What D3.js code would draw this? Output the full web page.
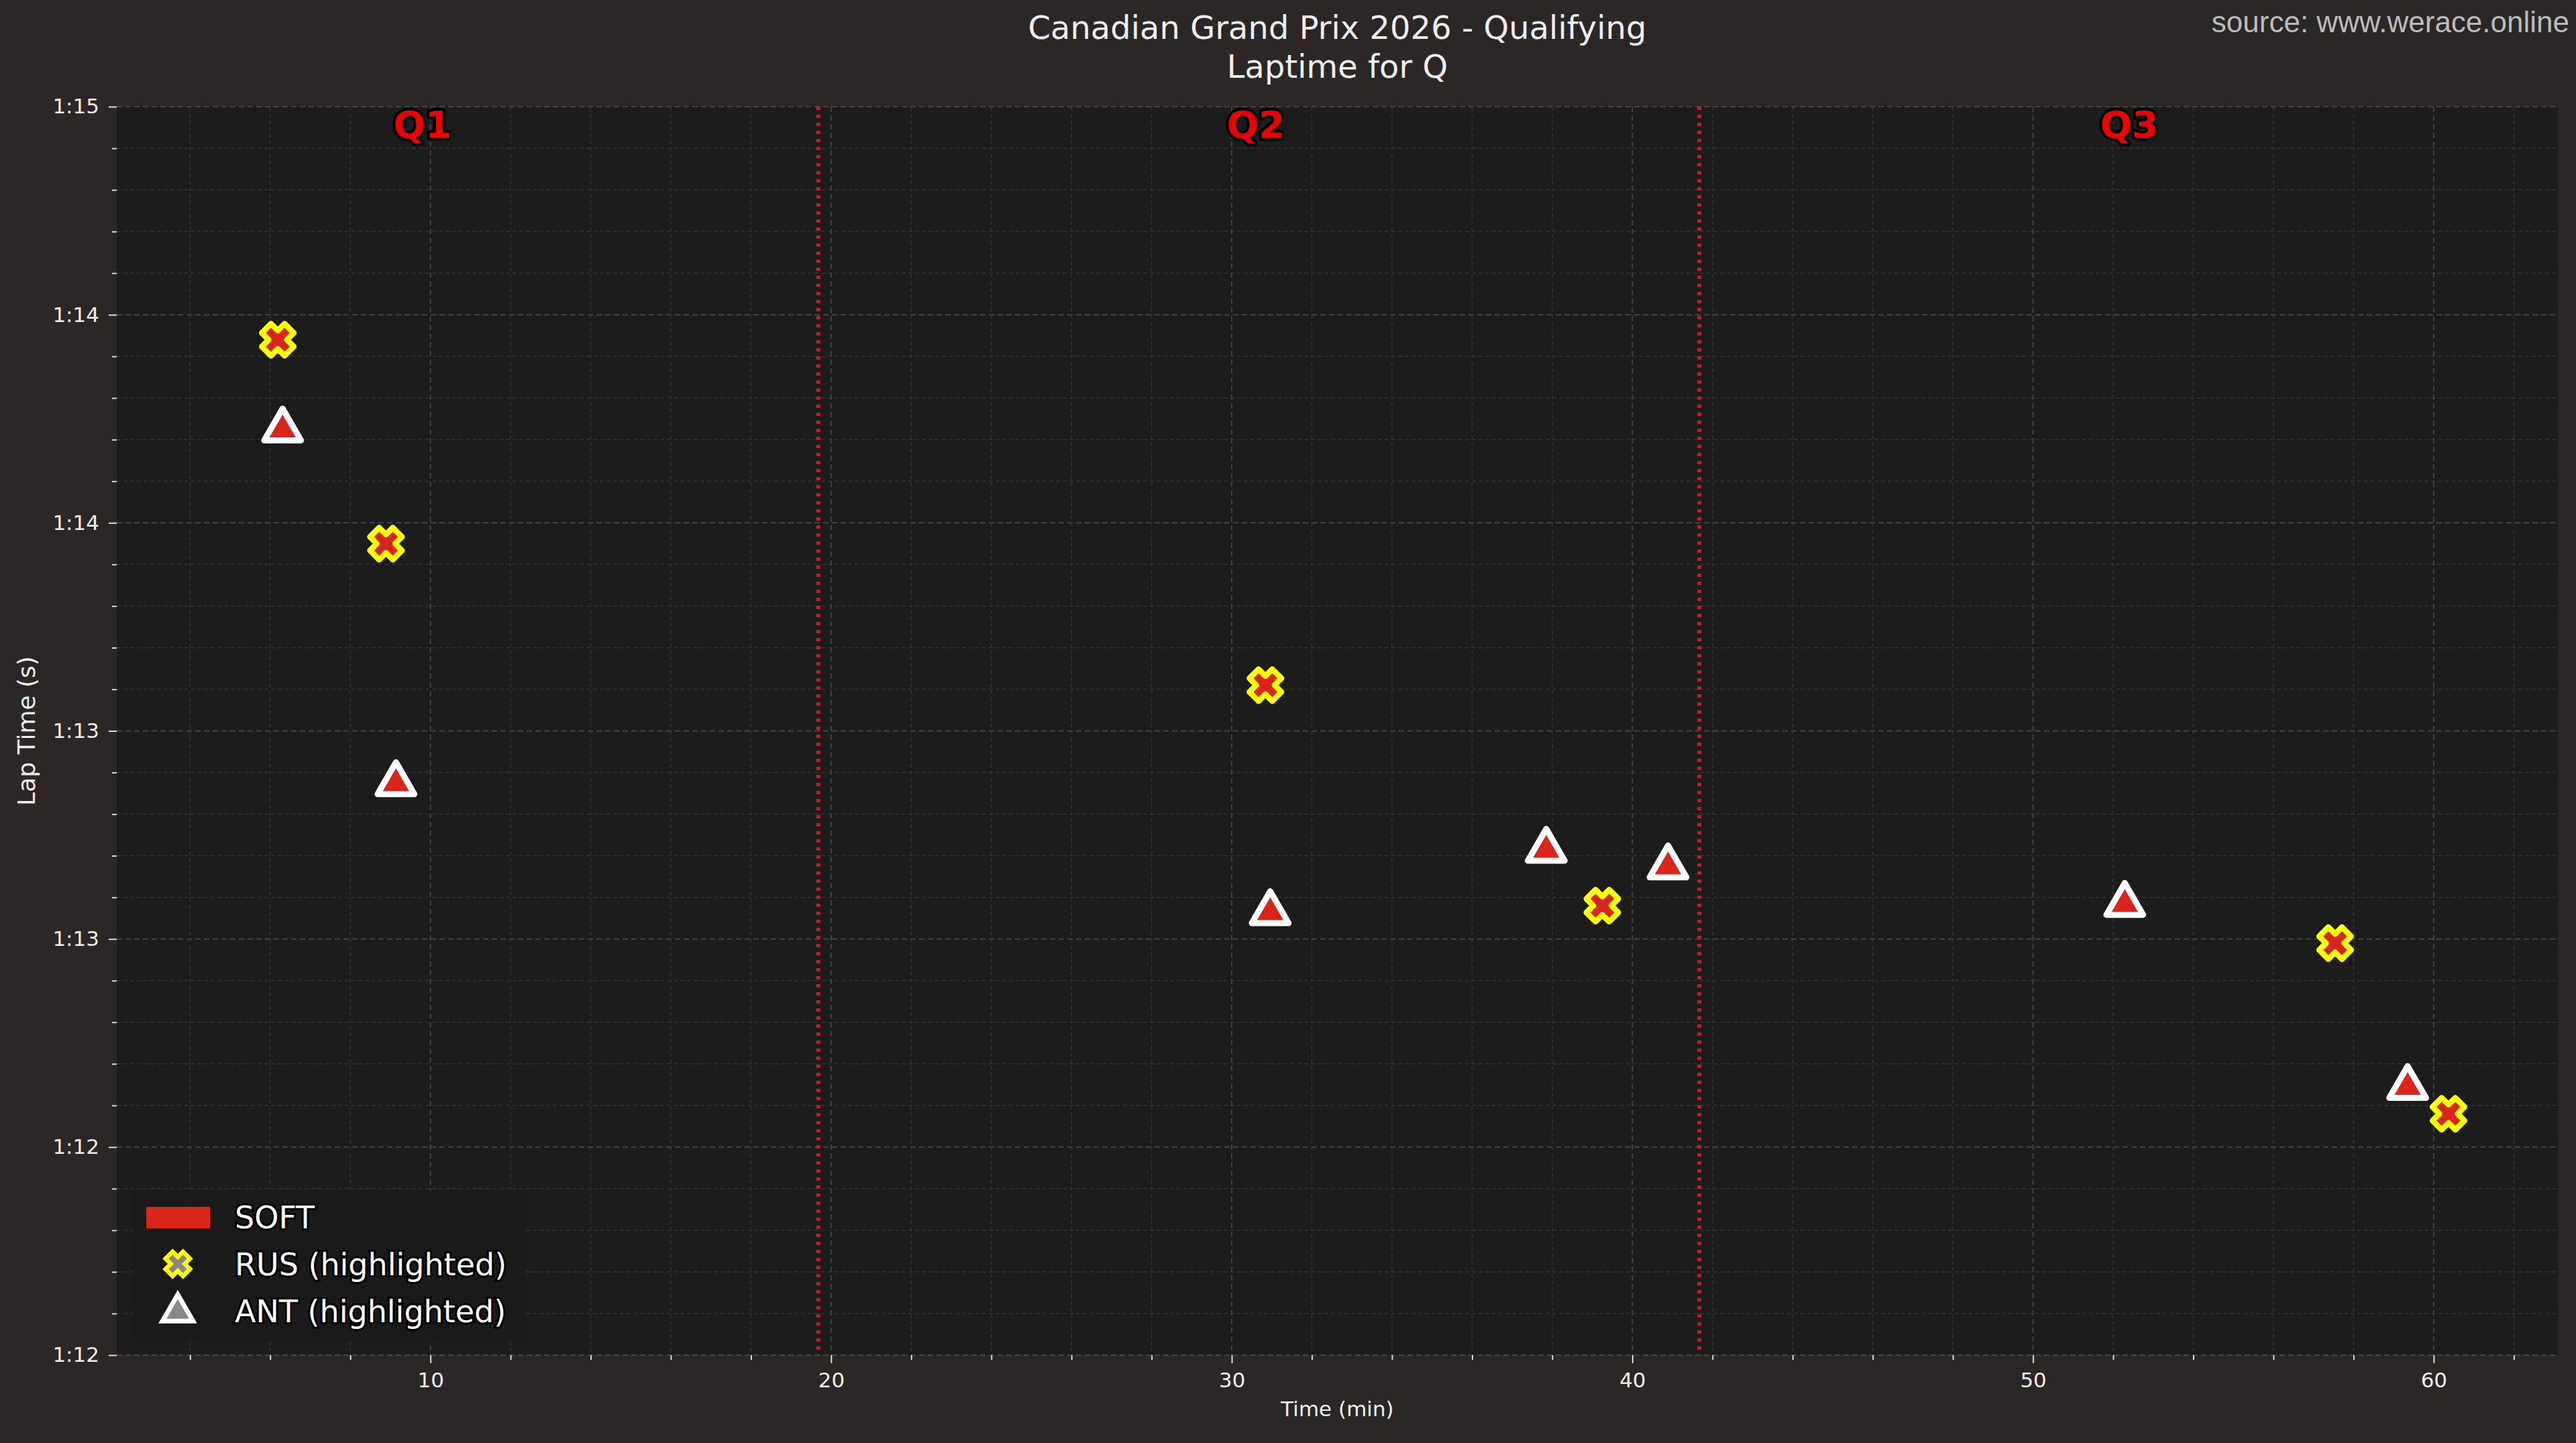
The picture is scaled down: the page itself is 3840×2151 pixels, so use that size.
<!DOCTYPE html>
<html>
<head>
<meta charset="utf-8">
<script src="https://cdn.jsdelivr.net/npm/d3@7"></script>
<style>
  html, body { margin: 0; padding: 0; background: #2a2726; }
  svg text { font-family: "DejaVu Sans", sans-serif; }
</style>
</head>
<body>
<svg id="chart" width="3840" height="2151"></svg>
<script>
// lap data (time in minutes, lap time in seconds)
var rusTimes = [6.19, 8.89, 30.84, 39.25, 57.54, 60.37];
var rusLaps = [74.44, 73.95, 73.61, 73.08, 72.99, 72.58];
var antTimes = [6.31, 9.14, 30.96, 37.85, 40.89, 52.29, 59.35];
var antLaps = [74.23, 73.38, 73.07, 73.22, 73.18, 73.09, 72.65];
var sessionBreaks = [19.68, 41.67];
var sessionNames = ['Q1', 'Q2', 'Q3'];
var sessionLabelX = [9.8, 30.6, 52.4];
var xTicks = [10, 20, 30, 40, 50, 60];
var yTicks = [72, 72.5, 73, 73.5, 74, 74.5, 75];

var W = 3840, H = 2151;
var m = { left: 174, right: 27, top: 159, bottom: 131 };
var svg = d3.select('#chart');

var x = d3.scaleLinear().domain([2.17, 63.1]).range([m.left, W - m.right]);
var y = d3.scaleLinear().domain([72, 75]).range([H - m.bottom, m.top]);

function fmtLap(s) {
    var mins = Math.floor(s / 60);
    var secs = Math.floor(s - mins * 60);
    return mins + ':' + (secs < 10 ? '0' : '') + secs;
}

svg.append('rect').attr('width', W).attr('height', H).attr('fill', '#2a2726');
svg.append('rect')
    .attr('x', m.left).attr('y', m.top)
    .attr('width', W - m.left - m.right).attr('height', H - m.top - m.bottom)
    .attr('fill', '#1d1c1c');

var xMinor = d3.range(4, 63, 2).filter(function(v) { return v % 10 !== 0; });
var yMinor = d3.range(72, 75.01, 0.1).filter(function(v) { return Math.abs(v * 2 - Math.round(v * 2)) > 0.01; });

var grid = svg.append('g');
grid.selectAll('.gxm').data(xMinor).enter().append('line')
    .attr('x1', x).attr('x2', x).attr('y1', m.top).attr('y2', H - m.bottom)
    .attr('stroke', '#333').attr('stroke-width', 1.5).attr('stroke-dasharray', '6,4');
grid.selectAll('.gym').data(yMinor).enter().append('line')
    .attr('y1', y).attr('y2', y).attr('x1', m.left).attr('x2', W - m.right)
    .attr('stroke', '#333').attr('stroke-width', 1.5).attr('stroke-dasharray', '6,4');
grid.selectAll('.gx').data(xTicks).enter().append('line')
    .attr('x1', x).attr('x2', x).attr('y1', m.top).attr('y2', H - m.bottom)
    .attr('stroke', '#444').attr('stroke-width', 2).attr('stroke-dasharray', '8,5');
grid.selectAll('.gy').data(yTicks).enter().append('line')
    .attr('y1', y).attr('y2', y).attr('x1', m.left).attr('x2', W - m.right)
    .attr('stroke', '#444').attr('stroke-width', 2).attr('stroke-dasharray', '8,5');

// axes
var xAxis = svg.append('g').attr('transform', 'translate(0,' + (H - m.bottom) + ')')
    .call(d3.axisBottom(x).tickValues(xTicks).tickSize(12).tickPadding(14));
var xAxisMinor = svg.append('g').attr('transform', 'translate(0,' + (H - m.bottom) + ')')
    .call(d3.axisBottom(x).tickValues(xMinor).tickSize(7).tickFormat(''));
var yAxis = svg.append('g').attr('transform', 'translate(' + m.left + ',0)')
    .call(d3.axisLeft(y).tickValues(yTicks).tickFormat(fmtLap).tickSize(12).tickPadding(14));
var yAxisMinor = svg.append('g').attr('transform', 'translate(' + m.left + ',0)')
    .call(d3.axisLeft(y).tickValues(yMinor).tickSize(7).tickFormat(''));
[xAxis, xAxisMinor, yAxis, yAxisMinor].forEach(function(a) {
    a.select('.domain').remove();
    a.selectAll('line').attr('stroke', '#ddd').attr('stroke-width', 2);
    a.selectAll('text').attr('fill', '#eee').attr('font-size', 31).attr('font-family', 'DejaVu Sans');
});

// session breaks
svg.selectAll('.brk').data(sessionBreaks).enter().append('line')
    .attr('x1', x).attr('x2', x).attr('y1', m.top).attr('y2', H - m.bottom)
    .attr('stroke', '#e0101a').attr('stroke-width', 6).attr('stroke-dasharray', '5,7');

svg.selectAll('.qlab').data(sessionNames).enter().append('text')
    .attr('x', function(d, i) { return x(sessionLabelX[i]); })
    .attr('y', m.top + 46)
    .attr('text-anchor', 'middle')
    .attr('font-size', 56).attr('font-weight', 'bold')
    .attr('fill', '#f00000').attr('stroke', '#000').attr('stroke-width', 8)
    .attr('paint-order', 'stroke').attr('stroke-linejoin', 'round')
    .text(function(d) { return d; });

// markers
var crossPath = 'M-6,-14 L0,-8 L6,-14 L14,-6 L8,0 L14,6 L6,14 L0,8 L-6,14 L-14,6 L-8,0 L-14,-6 Z';
var triPath = d3.symbol().type(d3.symbolTriangle).size(1300)();

var rus = rusTimes.map(function(t, i) { return [t, rusLaps[i]]; });
var ant = antTimes.map(function(t, i) { return [t, antLaps[i]]; });

svg.selectAll('.ant').data(ant).enter().append('path')
    .attr('d', triPath)
    .attr('transform', function(d) { return 'translate(' + x(d[0]) + ',' + (y(d[1]) + 4) + ')'; })
    .attr('fill', '#d9251a').attr('stroke', '#fff').attr('stroke-width', 9).attr('stroke-linejoin', 'round');
svg.selectAll('.rus').data(rus).enter().append('path')
    .attr('d', crossPath)
    .attr('transform', function(d) { return 'translate(' + x(d[0]) + ',' + y(d[1]) + ') scale(1.7)'; })
    .attr('fill', '#d9251a').attr('stroke', '#ffff00').attr('stroke-width', 5).attr('stroke-linejoin', 'round');

// labels
svg.append('text').attr('x', (m.left + W - m.right) / 2).attr('y', 58)
    .attr('text-anchor', 'middle').attr('font-size', 48).attr('fill', '#eee')
    .text('Canadian Grand Prix 2026 - Qualifying');
svg.append('text').attr('x', (m.left + W - m.right) / 2).attr('y', 116)
    .attr('text-anchor', 'middle').attr('font-size', 48).attr('fill', '#eee')
    .text('Laptime for Q');
svg.append('text').attr('x', W - 10).attr('y', 48)
    .attr('text-anchor', 'end').attr('font-size', 44).attr('fill', '#bbb')
    .style('font-family', 'Liberation Sans, Arial, sans-serif')
    .text('source: www.werace.online');
svg.append('text').attr('x', (m.left + W - m.right) / 2).attr('y', H - 40)
    .attr('text-anchor', 'middle').attr('font-size', 31).attr('fill', '#eee')
    .text('Time (min)');
svg.append('text').attr('transform', 'translate(52,' + ((m.top + H - m.bottom) / 2) + ') rotate(-90)')
    .attr('text-anchor', 'middle').attr('font-size', 36).attr('fill', '#eee')
    .text('Lap Time (s)');

// legend
var lg = svg.append('g').attr('transform', 'translate(198,1774)');
lg.append('rect').attr('width', 586).attr('height', 226).attr('fill', '#1b1b1b').attr('opacity', 0.9);
lg.append('rect').attr('x', 20).attr('y', 25).attr('width', 95).attr('height', 32).attr('fill', '#d9251a');
lg.append('path').attr('d', crossPath)
    .attr('transform', 'translate(67,110) scale(1.3)')
    .attr('fill', '#888').attr('stroke', '#ffff00').attr('stroke-width', 5);
lg.append('path').attr('d', d3.symbol().type(d3.symbolTriangle).size(900)())
    .attr('transform', 'translate(67,182)')
    .attr('fill', '#888').attr('stroke', '#fff').attr('stroke-width', 7);
var legendLabels = ['SOFT', 'RUS (highlighted)', 'ANT (highlighted)'];
lg.selectAll('.lt').data(legendLabels).enter().append('text')
    .attr('x', 152).attr('y', function(d, i) { return 57 + i * 70; })
    .attr('font-size', 46).attr('fill', '#fff')
    .attr('stroke', '#000').attr('stroke-width', 6).attr('paint-order', 'stroke')
    .text(function(d) { return d; });
</script>
</body>
</html>
